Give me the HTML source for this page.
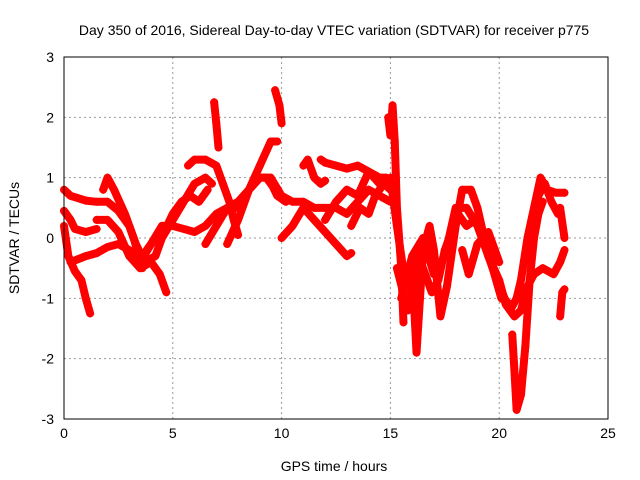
<!DOCTYPE html>
<html><head><meta charset="utf-8"><style>
body{margin:0;background:#fff}
svg{display:block;font-family:"Liberation Sans",sans-serif}
</style></head><body>
<svg id="chart" width="640" height="480" viewBox="0 0 640 480" xmlns="http://www.w3.org/2000/svg">
<rect width="640" height="480" fill="#fff"/>
<text x="334" y="35" font-size="14" text-anchor="middle" fill="#000">Day 350 of 2016, Sidereal Day-to-day VTEC variation (SDTVAR) for receiver p775</text>
<g id="grid"></g>
<g id="ticks"></g>
<g id="marks"></g>
<rect x="64" y="57" width="544" height="362" fill="none" stroke="#000" stroke-width="1"/>
<text x="334" y="471" font-size="14" text-anchor="middle">GPS time / hours</text>
<text transform="translate(19,238) rotate(-90)" font-size="14" text-anchor="middle">SDTVAR / TECUs</text>
</svg>
<script>
const xTicks=[0,5,10,15,20,25];
const yTicks=[3,2,1,0,-1,-2,-3];
const trackA=[[0,0.8],[0.3,0.7],[1,0.62],[1.5,0.6],[2,0.6],[2.5,0.45],[3,0.2],[3.3,-0.1],[3.7,-0.4],[4.2,-0.3],[4.5,0],[5,0.3],[5.5,0.6],[6,0.9],[6.5,1.0],[6.8,0.9]];
const trackB=[[0,0.45],[0.3,0.3],[0.5,0.15],[1,0.1],[1.5,0.15]];
const trackC=[[0,0.2],[0.2,-0.3],[0.5,-0.55],[0.8,-0.7],[1,-1.0],[1.2,-1.25]];
const trackD=[[0.3,-0.4],[1,-0.3],[1.5,-0.25],[2,-0.15],[2.5,-0.1],[3,-0.2],[3.5,-0.4],[4,-0.1],[4.5,0.2],[5,0.2],[5.5,0.15],[6,0.1],[6.5,0.2],[7,0.4],[7.5,0.5],[8,0.5],[8.5,0.8],[9,1.0],[9.5,1.0],[10,0.7],[10.5,0.6],[11,0.6],[11.5,0.5],[12,0.5],[12.5,0.5],[13,0.4],[13.5,0.6],[14,0.8],[14.5,0.7],[15,0.6]];
const trackE=[[1.8,0.8],[2,1.0],[2.3,0.8],[2.8,0.4],[3.2,0],[3.6,-0.5]];
const trackF=[[1.5,0.3],[2,0.3],[2.5,0.1],[3,-0.3],[3.5,-0.5],[4,-0.4],[4.4,-0.6],[4.7,-0.9]];
const trackG=[[5.7,1.2],[6,1.3],[6.5,1.3],[7,1.2],[7.3,0.9],[7.6,0.6],[7.8,0.3],[8,0.05]];
const trackG2=[[6.9,2.25],[7,1.9],[7.1,1.5]];
const trackH=[[3.8,-0.2],[4.2,0],[4.6,0.1],[5,0.4],[5.4,0.6],[5.8,0.7],[6.2,0.6],[6.6,0.8]];
const trackI=[[6.5,-0.1],[7,0.2],[7.5,0.5],[8,0.6],[8.5,0.8],[9,1.0],[9.3,1.0],[9.6,0.85],[9.8,0.7],[10.2,0.6]];
const trackJ=[[7.5,-0.1],[8,0.3],[8.5,0.8],[9,1.2],[9.5,1.6],[9.8,1.6]];
const trackK=[[9.7,2.45],[9.9,2.2],[10,1.9]];
const trackL=[[10,0],[10.5,0.2],[11,0.5],[11.5,0.3],[12,0.1],[12.5,-0.1],[13,-0.3],[13.2,-0.25]];
const trackM=[[11,1.2],[11.2,1.3],[11.5,1.0],[11.8,0.9],[12,0.95]];
const trackN=[[11.8,1.3],[12,1.25],[12.5,1.2],[13,1.15],[13.5,1.2],[14,1.1],[14.5,1.0],[14.8,1.0]];
const trackO=[[12,0.3],[12.5,0.6],[13,0.8],[13.5,0.7],[14,1.1],[14.5,0.9]];
const trackO2=[[13.2,0.2],[13.6,0.5],[14,0.4],[14.3,0.7],[14.7,0.9],[15,0.8]];
const trackP=[[14.9,2.0],[15,1.7],[15.1,2.2],[15.2,1.6],[15.3,0.5],[15.5,-0.5],[15.6,-1.4]];
const trackQ=[[15,1.0],[15.3,0.2],[15.5,-0.3],[15.7,-0.8],[16,-0.5],[16.2,-1.9],[16.5,-0.2],[16.8,0.2],[17,-0.2],[17.3,-1.3],[17.6,-0.8],[18,0.2],[18.3,0.8],[18.7,0.8],[19,0.5],[19.5,-0.3],[20,-0.8],[20.5,-1.2],[20.8,-1.0],[21,-0.7],[21.3,0.0],[21.6,0.5],[21.9,1.0],[22.2,0.8],[22.6,0.75],[23,0.75]];
const trackR=[[15.5,-1.0],[16,-0.3],[16.5,0],[17,-0.6],[17.5,-0.3],[18,0.5],[18.5,0.5],[19,0.2],[19.5,-0.3],[20,-0.7],[20.3,-1.1],[20.7,-1.3],[21,-1.2],[21.3,-0.8],[21.6,-0.6],[22,-0.5],[22.5,-0.6],[22.8,-0.4],[23,-0.2]];
const trackW=[[15.3,-0.5],[15.8,-1.2],[16,-0.8],[16.3,-0.3],[16.6,-0.6],[16.9,-0.9],[17.2,-0.7],[17.5,-0.2],[17.8,0.1],[18.1,0.4],[18.5,0.2],[18.9,0.3],[19.3,0],[19.7,-0.5],[20.1,-1.0],[20.5,-1.1]];
const trackS=[[18.3,-0.2],[18.6,-0.6],[19,-0.1],[19.5,0.1],[20,-0.4]];
const trackT=[[20.6,-1.6],[20.7,-2.2],[20.8,-2.85],[21,-2.6],[21.2,-1.8],[21.4,-0.7],[21.6,0],[21.8,0.4],[22,0.6]];
const trackT2=[[21.2,-0.3],[21.5,0.3],[21.8,0.7],[22.1,0.9],[22.4,0.6],[22.7,0.4]];
const trackU=[[22.8,-1.3],[22.9,-0.9],[23,-0.85]];
const trackV=[[22.8,0.5],[23,0.0]];
const tracks=[trackA,trackB,trackC,trackD,trackE,trackF,trackG,trackG2,trackH,trackI,trackJ,trackK,trackL,trackM,trackN,trackO,trackO2,trackP,trackQ,trackR,trackW,trackS,trackT,trackT2,trackU,trackV];

const NS="http://www.w3.org/2000/svg";
const X0=64,X1=608,Y0=419,Y1=57;
function xs(v){return X0+(v-0)/(25-0)*(X1-X0);}
function ys(v){return Y0-(v+3)/6*(Y0-Y1);}
function mk(tag,attrs,parent){const e=document.createElementNS(NS,tag);for(const k in attrs)e.setAttribute(k,attrs[k]);parent.appendChild(e);return e;}
const grid=document.getElementById('grid'),ticks=document.getElementById('ticks'),marks=document.getElementById('marks');
xTicks.forEach(t=>{
  const x=xs(t);
  if(t>0&&t<25){const g=mk('line',{x1:x,x2:x,y1:Y1,y2:Y0,stroke:'#999','stroke-dasharray':'2,3','stroke-width':1},grid);
  
  }
  const tl=mk('text',{x:x,y:Y0+19,'font-size':14,'text-anchor':'middle'},ticks);
  tl.textContent=t;
  
  
});
yTicks.forEach(t=>{
  const y=ys(t);
  if(t>-3&&t<3){const g=mk('line',{x1:X0,x2:X1,y1:y,y2:y,stroke:'#999','stroke-dasharray':'2,3','stroke-width':1},grid);
  
  }
  const tl=mk('text',{x:X0-10,y:y+5,'font-size':14,'text-anchor':'end'},ticks);
  tl.textContent=t;
  
  
});
tracks.forEach((tr,i)=>{
  const pts=tr.map(p=>xs(p[0])+','+ys(p[1])).join(' ');
  const pl=mk('polyline',{points:pts,fill:'none',stroke:'#ff0000','stroke-width':8,'stroke-linejoin':'round','stroke-linecap':'round'},marks);
  
  
  tr.forEach(p=>{
    const x=xs(p[0]),y=ys(p[1]);
    const m=mk('path',{d:`M${x-4},${y}H${x+4}M${x},${y-4}V${y+4}`,stroke:'#ff0000','stroke-width':1.2},marks);
    
    
  });
});
</script>
</body></html>
